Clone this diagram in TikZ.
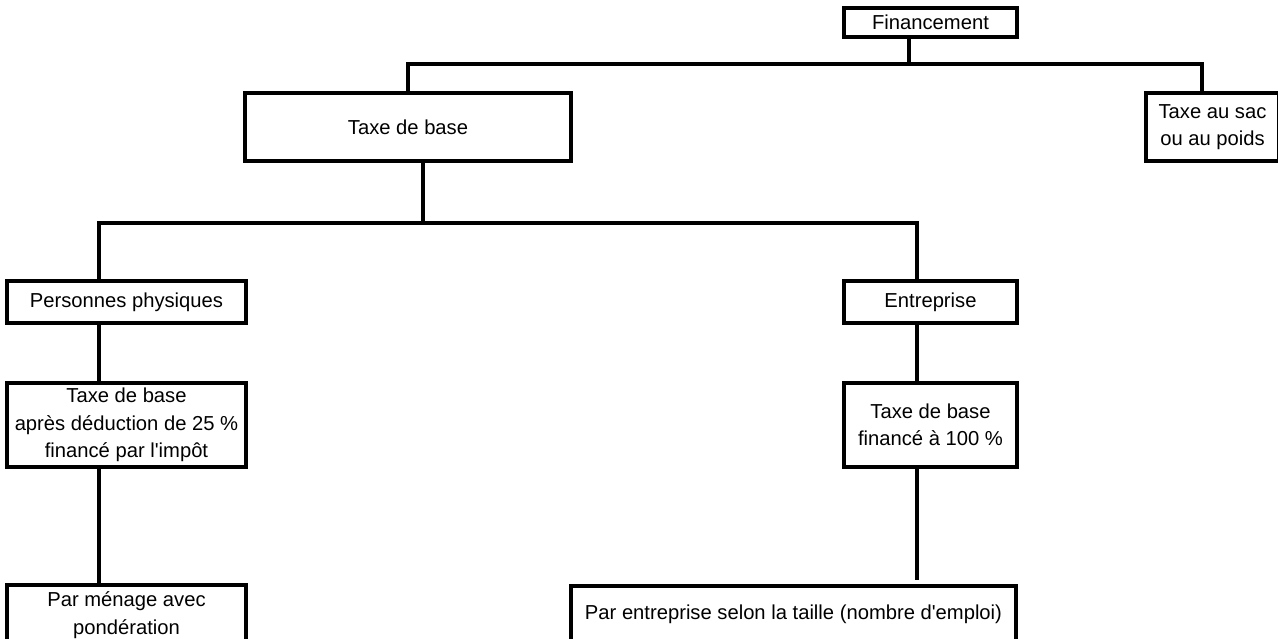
\documentclass[tikz,border=0pt]{standalone}
\usepackage{fontspec}
\setmainfont{Liberation Sans}
\begin{document}
\begin{tikzpicture}[x=1pt,y=-1pt,
  box/.style={draw, line width=3.2pt, inner sep=0pt, align=center,
    font=\fontsize{20.2}{27.5}\selectfont},
  conn/.style={line width=3.2pt}]
\useasboundingbox (0,0) rectangle (1278,638);
\clip (0,0) rectangle (1278,638);
% nodes
\node[box, minimum width=173pt, minimum height=29pt] (fin) at (930.5,22.5) {Financement};
\node[box, minimum width=326pt, minimum height=68pt] (tdb) at (408,127) {Taxe de base};
\node[box, minimum width=133pt, minimum height=68pt] (sac) at (1212.5,127) {Taxe au sac\\ou au poids};
\node[box, minimum width=239pt, minimum height=42pt] (pp) at (126.5,302) {Personnes physiques};
\node[box, minimum width=239pt, minimum height=84pt] (tdbp) at (126.5,425) {Taxe de base\\après déduction de 25~\%\\financé par l\textquotesingle impôt};
\node[box, minimum width=239pt, minimum height=60pt] (men) at (126.5,615) {Par ménage avec\\pondération};
\node[box, minimum width=173pt, minimum height=42pt] (ent) at (930.5,302) {Entreprise};
\node[box, minimum width=173pt, minimum height=84pt] (tdbe) at (930.5,425) {Taxe de base\\financé à 100~\%};
\node[box, minimum width=445pt, minimum height=56pt] (pe) at (793.5,614) {Par entreprise selon la taille (nombre d\textquotesingle emploi)};
% junctions
\coordinate (j1) at (909,64);
\coordinate (xsac) at (1202,0);
\coordinate (j2) at (423,223);
\coordinate (xpp) at (99,0);
\coordinate (xe) at (917,0);
\coordinate (pend) at (917,580);
% connectors
\draw[conn] (fin.south -| j1) -- (j1);
\draw[conn] (tdb.north) |- (j1) -| (sac.north -| xsac);
\draw[conn] (tdb.south -| j2) -- (j2);
\draw[conn] (pp.north -| xpp) |- (j2) -| (ent.north -| xe);
\draw[conn] (pp.south -| xpp) -- (tdbp.north -| xpp);
\draw[conn] (tdbp.south -| xpp) -- (men.north -| xpp);
\draw[conn] (ent.south -| xe) -- (tdbe.north -| xe);
\draw[conn] (tdbe.south -| xe) -- (pend);
\end{tikzpicture}
\end{document}
